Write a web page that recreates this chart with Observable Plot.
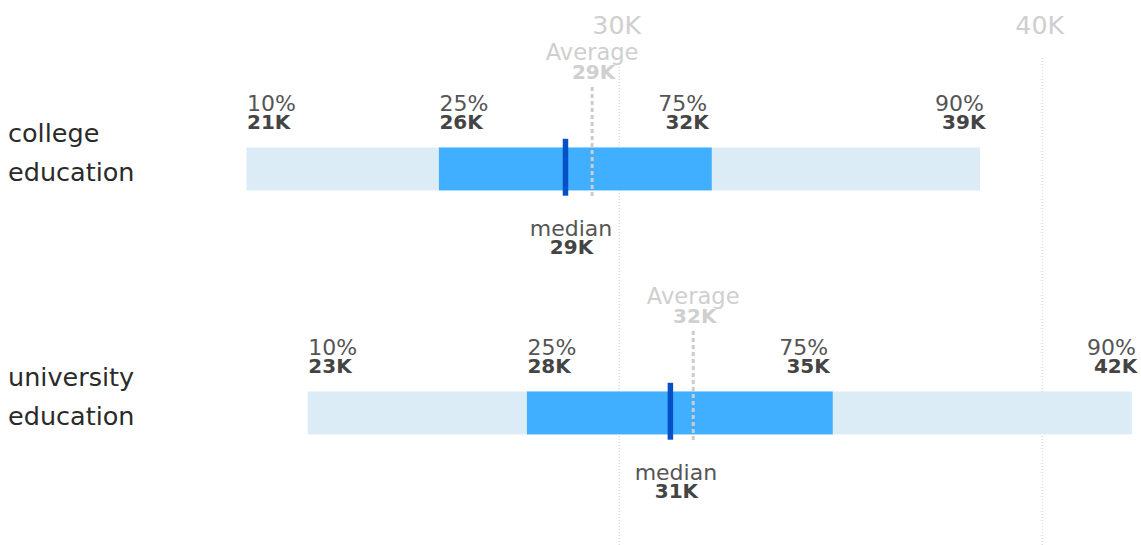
<!DOCTYPE html>
<html><head><meta charset="utf-8">
<script src="https://cdn.jsdelivr.net/npm/d3@7"></script>
<script src="https://cdn.jsdelivr.net/npm/@observablehq/plot@0.6"></script>
<style>body{margin:0;background:#fff;}</style>
</head><body><div id="chart"></div>
<script>
// ---- data (thousands) ----
const groups   = ["college\neducation", "university\neducation"];
const p10      = [21.2, 22.65];
const p25      = [25.75, 27.83];
const p75      = [32.2, 35.06];
const p90      = [38.54, 42.13];
const medians  = [28.73, 31.21];
const averages = [29.36, 31.75];
const xTicks   = [30, 40];
const tickLabels = ["30K", "40K"];

const fmt = v => Math.round(v) + "K";
const rows = groups.map((g, i) => ({group: g, p10: p10[i], p25: p25[i], p75: p75[i], p90: p90[i], median: medians[i], avg: averages[i]}));
const startLabels = rows.flatMap(r => [{group: r.group, q: "10%", v: r.p10}, {group: r.group, q: "25%", v: r.p25}]);
const l75 = rows.map(r => ({group: r.group, q: "75%", v: r.p75}));
const l90 = rows.map(r => ({group: r.group, q: "90%", v: r.p90}));
const ticks = xTicks.map((t, i) => ({t, label: tickLabels[i]}));

const FONT_LBL = 22, FONT_VAL = 20;
const cLbl = "#555", cVal = "#444", cAvg = "#cfcfcf";

const chart = Plot.plot({
  width: 1141, height: 545,
  marginTop: 0, marginBottom: 0, marginLeft: 0, marginRight: 0,
  x: {domain: [20, 40], range: [195.7, 1041.7], axis: null},
  y: {type: "band", domain: groups, range: [47.2, 535.3], padding: 0, axis: null},
  style: {fontFamily: "DejaVu Sans", background: "white"},
  marks: [
    Plot.ruleX(ticks, {x: "t", insetTop: 58, stroke: "#cccccc", strokeDasharray: "1,2", strokeWidth: 1}),
    Plot.text(ticks, {x: "t", text: "label", frameAnchor: "top", lineAnchor: "bottom", dy: 33, dx: -2.5, fontSize: 25.3, fill: "#cfcfcf"}),
    // row labels
    Plot.text(rows, {y: "group", text: "group", frameAnchor: "left", dx: 7.5, textAnchor: "start", lineAnchor: "bottom", lineHeight: 1.5, dy: 11, fontSize: 25.5, fill: "#2a2a2a"}),
    // bars
    Plot.barX(rows, {y: "group", x1: "p10", x2: "p90", fill: "#dcecf7", insetTop: 100.5, insetBottom: 100.6}),
    Plot.barX(rows, {y: "group", x1: "p25", x2: "p75", fill: "#41afff", insetTop: 100.5, insetBottom: 100.6}),
    // average
    Plot.tickX(rows, {y: "group", x: "avg", stroke: "#cccccc", strokeWidth: 3, strokeDasharray: "4,3", insetTop: 40.1, insetBottom: 93}),
    Plot.text(rows, {y: "group", x: "avg", text: () => "Average", lineAnchor: "bottom", dy: -110, fontSize: 22.6, fill: cAvg, stroke: "white", strokeWidth: 4}),
    Plot.text(rows, {y: "group", x: "avg", text: d => fmt(d.avg), lineAnchor: "bottom", dy: -90.5, dx: 1.5, fontSize: FONT_VAL, fontWeight: "bold", fill: cAvg}),
    // median
    Plot.tickX(rows, {y: "group", x: "median", stroke: "#0451c7", strokeWidth: 5.5, insetTop: 91.8, insetBottom: 95.3}),
    Plot.text(rows, {y: "group", x: "median", text: () => "median", lineAnchor: "bottom", dy: 66.5, dx: 5.5, fontSize: FONT_LBL, fill: cLbl}),
    Plot.text(rows, {y: "group", x: "median", text: d => fmt(d.median), lineAnchor: "bottom", dy: 84.5, dx: 6, fontSize: FONT_VAL, fontWeight: "bold", fill: cVal}),
    // percentile labels
    Plot.text(startLabels, {y: "group", x: "v", text: "q", textAnchor: "start", lineAnchor: "bottom", dy: -58.5, fontSize: FONT_LBL, fill: cLbl}),
    Plot.text(startLabels, {y: "group", x: "v", text: d => fmt(d.v), textAnchor: "start", lineAnchor: "bottom", dy: -41, fontSize: FONT_VAL, fontWeight: "bold", fill: cVal}),
    Plot.text(l75, {y: "group", x: "v", text: "q", textAnchor: "end", dx: -5, lineAnchor: "bottom", dy: -58.5, fontSize: FONT_LBL, fill: cLbl}),
    Plot.text(l75, {y: "group", x: "v", text: d => fmt(d.v), textAnchor: "end", dx: -3.5, lineAnchor: "bottom", dy: -41, fontSize: FONT_VAL, fontWeight: "bold", fill: cVal}),
    Plot.text(l90, {y: "group", x: "v", text: "q", textAnchor: "end", dx: 3.5, lineAnchor: "bottom", dy: -58.5, fontSize: FONT_LBL, fill: cLbl}),
    Plot.text(l90, {y: "group", x: "v", text: d => fmt(d.v), textAnchor: "end", dx: 5, lineAnchor: "bottom", dy: -41, fontSize: FONT_VAL, fontWeight: "bold", fill: cVal})
  ]
});
document.getElementById("chart").append(chart);
</script>
</body></html>
